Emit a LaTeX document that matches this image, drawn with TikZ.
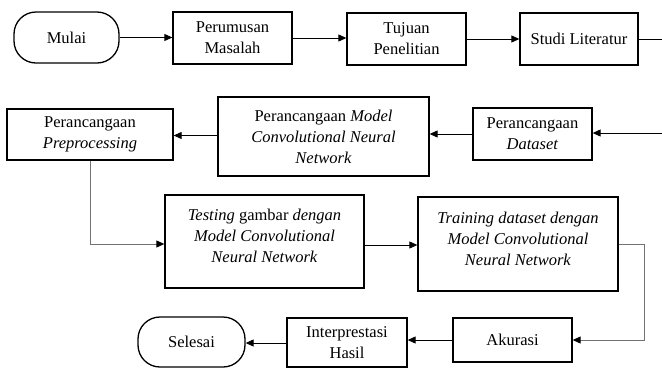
\documentclass[tikz,border=0pt]{standalone}
\usepackage{fontspec}
\setmainfont{Liberation Serif}
\usetikzlibrary{arrows.meta}
\begin{document}
\begin{tikzpicture}[x=1pt,y=-1pt,
 txt/.style={inner sep=0pt, align=center, font=\fontsize{16.5}{21}\selectfont},
 box/.style={txt, draw=black, line width=1.3pt},
 term/.style={box, rounded corners=22pt},
 conn/.style={line width=0.9pt, -{Triangle[length=8pt,width=7pt,color=black]}},
 gconn/.style={conn, draw=black!55},
 plain/.style={line width=0.9pt}]
\useasboundingbox (0,0) rectangle (662,368);
% row 1
\node[term, minimum width=105pt, minimum height=51pt] (mulai) at (66.5,37.5) {Mulai};
\node[box, minimum width=119pt, minimum height=52pt] (pm) at (232.5,38) {Perumusan\\Masalah};
\node[box, minimum width=119pt, minimum height=52pt] (tp) at (406.5,39) {Tujuan\\Penelitian};
\node[box, minimum width=118pt, minimum height=52pt] (sl) at (579,39) {Studi Literatur};
\coordinate (e1) at (662,39);
% row 2
\coordinate (e2) at (662,133);
\node[box, minimum width=119pt, minimum height=52pt] (pd) at (532.5,134) {Perancangaan\\\textit{Dataset}};
\node[box, minimum width=211pt, minimum height=79pt] (pmodel) at (323.5,136.5) {Perancangaan \textit{Model}\\\textit{Convolutional Neural}\\\textit{Network}};
\node[box, minimum width=166pt, minimum height=51pt] (pp) at (90,134.5) {Perancangaan\\\textit{Preprocessing}};
% row 3
\node[box, minimum width=199pt, minimum height=93pt] (test) at (264.5,241.5) {};
\node[txt] (testt) at (264.5,236) {\textit{Testing} gambar \textit{dengan}\\\textit{Model Convolutional}\\\textit{Neural Network}};
\node[box, minimum width=200pt, minimum height=94pt] (train) at (518,244) {};
\node[txt] (traint) at (518,238.5) {\textit{Training dataset dengan}\\\textit{Model Convolutional}\\\textit{Neural Network}};
% row 4
\node[box, minimum width=119pt, minimum height=44pt] (ak) at (512.5,340) {Akurasi};
\node[box, minimum width=120pt, minimum height=49pt] (ih) at (347,342.5) {Interprestasi\\Hasil};
\node[term, minimum width=107pt, minimum height=50pt] (sel) at (191.5,342) {Selesai};
% connectors
\draw[conn] (mulai.east) -- (mulai.east -| pm.west);
\draw[conn] (pm.east) -- (pm.east -| tp.west);
\draw[conn] (tp.east) -- (tp.east -| sl.west);
\draw[plain] (sl.east) -- (e1);
\draw[conn] (e2) -- (e2 -| pd.east);
\draw[conn] (pd.west) -- (pd.west -| pmodel.east);
\draw[conn] ([yshift=1pt]pmodel.west) -- ([yshift=1pt]pmodel.west -| pp.east);
\draw[gconn] (pp.south) |- ([yshift=-2.5pt]test.west);
\draw[conn] ([yshift=-3.5pt]test.east) -- ([yshift=-3.5pt]test.east -| train.west);
\draw[gconn] (train.east) -- ++(26,0) |- (ak.east);
\draw[conn] (ak.west) -- (ak.west -| ih.east);
\draw[conn] ([yshift=-0.5pt]ih.west) -- ([yshift=-0.5pt]ih.west -| sel.east);
\end{tikzpicture}
\end{document}
